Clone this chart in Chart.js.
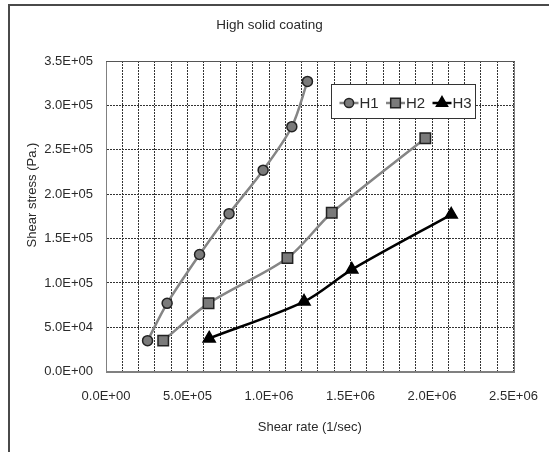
<!DOCTYPE html>
<html>
<head>
<meta charset="utf-8">
<script src="https://cdn.jsdelivr.net/npm/chart.js@4/dist/chart.umd.min.js"></script>
<style>
  html, body { margin: 0; padding: 0; background: #fff; }
  #wrap { width: 549px; height: 452px; }
</style>
</head>
<body>
<div id="wrap"><canvas id="c" width="549" height="452"></canvas></div>
<script>
// Flow curves: shear rate (1/sec) vs shear stress (Pa.)
const chartTitle = 'High solid coating';
const seriesNames = ['H1', 'H2', 'H3'];

const h1Rate   = [255000, 375000, 574000, 755000, 964000, 1140000, 1236000];
const h1Stress = [35000, 77000, 132000, 178000, 227000, 276000, 327000];

const h2Rate   = [351000, 629000, 1113000, 1385000, 1959000];
const h2Stress = [35000, 77000, 128000, 179000, 263000];

const h3Rate   = [633000, 1215000, 1508000, 2118000];
const h3Stress = [37500, 79000, 115000, 177000];

const xTickLabels = ['0.0E+00', '5.0E+05', '1.0E+06', '1.5E+06', '2.0E+06', '2.5E+06'];
const yTickLabels = ['0.0E+00', '5.0E+04', '1.0E+05', '1.5E+05', '2.0E+05', '2.5E+05', '3.0E+05', '3.5E+05'];

const FONT = '"Liberation Sans", Arial, sans-serif';
const TEXT = '#2a2a2a';

function pairs(xs, ys) { return xs.map((x, i) => ({ x: x, y: ys[i] })); }

// Excel-like scientific label, e.g. 5.0E+05
function sci(v) {
  const [m, e] = Number(v).toExponential(1).split('e');
  const sign = e[0] === '-' ? '-' : '+';
  const digits = e.replace(/[+-]/, '').padStart(2, '0');
  return m + 'E' + sign + digits;
}

const styles = [
  { line: '#858585', fill: '#7a7a7a', edge: '#222', point: 'circle',   radius: 5,   width: 2.5 },
  { line: '#858585', fill: '#7a7a7a', edge: '#222', point: 'rect',     radius: 7.4, width: 2.5 },
  { line: '#000000', fill: '#000000', edge: '#000', point: 'triangle', radius: 7,   width: 2.5 }
];
const seriesData = [pairs(h1Rate, h1Stress), pairs(h2Rate, h2Stress), pairs(h3Rate, h3Stress)];

const datasets = seriesNames.map((name, i) => ({
  label: name,
  data: seriesData[i],
  borderColor: styles[i].line,
  borderWidth: styles[i].width,
  backgroundColor: styles[i].fill,
  pointStyle: styles[i].point,
  pointRadius: styles[i].radius,
  pointBackgroundColor: styles[i].fill,
  pointBorderColor: styles[i].edge,
  pointBorderWidth: 1.5,
  tension: 0.3,
  fill: false
}));

// Outer frame of the chart object
const framePlugin = {
  id: 'frame',
  beforeDraw(chart) {
    const ctx = chart.ctx;
    ctx.save();
    ctx.fillStyle = '#fff';
    ctx.fillRect(0, 0, chart.width, chart.height);
    ctx.strokeStyle = '#4a4a4a';
    ctx.lineWidth = 2;
    ctx.strokeRect(9, 5, chart.width + 20, chart.height + 20);
    ctx.restore();
  }
};

// Solid border round the plot area, drawn over the dotted grid
const plotBorderPlugin = {
  id: 'plotBorder',
  beforeDatasetsDraw(chart) {
    const a = chart.chartArea;
    const ctx = chart.ctx;
    ctx.save();
    ctx.strokeStyle = '#808080';
    ctx.lineWidth = 1;
    ctx.strokeRect(Math.round(a.left) + 0.5, Math.round(a.top) + 0.5,
                   Math.round(a.right - a.left), Math.round(a.bottom - a.top));
    ctx.strokeStyle = '#555';
    ctx.beginPath();
    ctx.moveTo(Math.round(a.left), Math.round(a.top) + 0.5);
    ctx.lineTo(Math.round(a.right) + 1, Math.round(a.top) + 0.5);
    ctx.stroke();
    ctx.restore();
  }
};

// Chart title and the y axis caption
const captionPlugin = {
  id: 'captions',
  afterDraw(chart) {
    const ctx = chart.ctx;
    ctx.save();
    ctx.fillStyle = TEXT;
    ctx.textAlign = 'center';
    ctx.textBaseline = 'middle';
    ctx.font = '13.5px ' + FONT;
    ctx.fillText(chartTitle, 269.5, 25);
    ctx.translate(32, 195);
    ctx.rotate(-Math.PI / 2);
    ctx.font = '13px ' + FONT;
    ctx.fillText('Shear stress (Pa.)', 0, 0);
    ctx.restore();
  }
};

function drawMarker(ctx, style, x, y) {
  ctx.save();
  ctx.fillStyle = style.fill;
  ctx.strokeStyle = style.edge;
  ctx.lineWidth = 1.5;
  ctx.beginPath();
  const r = style.radius;
  if (style.point === 'circle') {
    ctx.arc(x, y, r, 0, Math.PI * 2);
  } else if (style.point === 'rect') {
    const s = r * Math.SQRT1_2;
    ctx.rect(x - s, y - s, 2 * s, 2 * s);
  } else {
    ctx.moveTo(x, y - r);
    ctx.lineTo(x + r * 0.866, y + r / 2);
    ctx.lineTo(x - r * 0.866, y + r / 2);
    ctx.closePath();
  }
  ctx.fill();
  ctx.stroke();
  ctx.restore();
}

// Boxed legend inside the plot area, upper right
const legendBoxPlugin = {
  id: 'legendBox',
  afterDatasetsDraw(chart) {
    const a = chart.chartArea;
    const ctx = chart.ctx;
    const bx = Math.round(a.left + 225) + 0.5;
    const by = Math.round(a.top + 23) + 0.5;
    const bw = 144, bh = 34;
    ctx.save();
    ctx.fillStyle = '#fff';
    ctx.fillRect(bx, by, bw, bh);
    ctx.strokeStyle = '#333';
    ctx.lineWidth = 1;
    ctx.strokeRect(bx, by, bw, bh);
    const cy = by + 18.5;
    ctx.font = '15px ' + FONT;
    ctx.textBaseline = 'middle';
    ctx.textAlign = 'left';
    seriesNames.forEach((name, i) => {
      const x0 = bx + 8 + i * 46.5;
      const st = styles[i];
      ctx.strokeStyle = st.line;
      ctx.lineWidth = st.width;
      ctx.beginPath();
      ctx.moveTo(x0, cy);
      ctx.lineTo(x0 + 19, cy);
      ctx.stroke();
      drawMarker(ctx, Object.assign({}, st, { radius: st.point === 'circle' ? 4.6 : st.radius * 0.92 }), x0 + 9.5, cy);
      ctx.fillStyle = TEXT;
      ctx.fillText(name, x0 + 20, cy + 0.5);
    });
    ctx.restore();
  }
};

const gridStyle = { color: '#333', lineWidth: 1, drawTicks: false, tickLength: 0 };
const axisBorder = { display: true, color: '#808080', width: 1, dash: [2, 1] };

new Chart(document.getElementById('c'), {
  type: 'line',
  data: { datasets: datasets },
  options: {
    responsive: false,
    animation: false,
    devicePixelRatio: 1,
    layout: { padding: { left: 10, right: 35.5, top: 61, bottom: 10 } },
    plugins: {
      legend: { display: false },
      tooltip: { enabled: false },
      title: { display: false }
    },
    scales: {
      x: {
        type: 'linear',
        min: 0,
        max: 2500000,
        afterFit(scale) {
          scale.height = 70.3;
          scale.paddingLeft = 0;
          scale.paddingRight = 0;
        },
        border: axisBorder,
        grid: gridStyle,
        ticks: {
          stepSize: 100000,
          maxTicksLimit: 40,
          autoSkip: false,
          maxRotation: 0,
          padding: 17,
          color: TEXT,
          font: { family: FONT, size: 13 },
          callback(v) {
            const label = sci(v);
            return xTickLabels.includes(label) ? label : '';
          }
        },
        title: {
          display: true,
          text: 'Shear rate (1/sec)',
          color: TEXT,
          font: { family: FONT, size: 13 },
          padding: { top: 0, bottom: 7 }
        }
      },
      y: {
        type: 'linear',
        min: 0,
        max: 350000,
        afterFit(scale) {
          scale.width = 96;
          scale.paddingTop = 0;
          scale.paddingBottom = 0;
        },
        border: axisBorder,
        grid: gridStyle,
        ticks: {
          stepSize: 50000,
          maxTicksLimit: 20,
          autoSkip: false,
          padding: 13,
          color: TEXT,
          font: { family: FONT, size: 13 },
          callback(v) {
            const label = sci(v);
            return yTickLabels.includes(label) ? label : '';
          }
        }
      }
    }
  },
  plugins: [framePlugin, plotBorderPlugin, captionPlugin, legendBoxPlugin]
});
</script>
</body>
</html>
